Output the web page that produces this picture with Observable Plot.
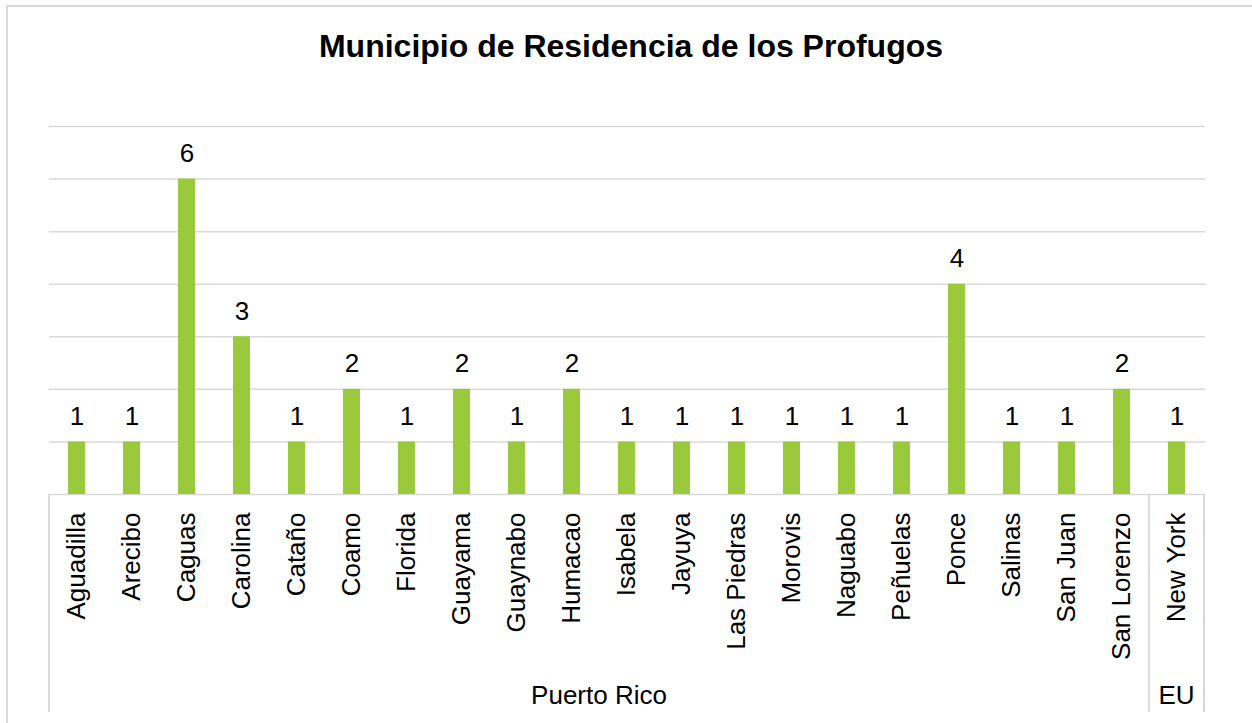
<!DOCTYPE html>
<html>
<head>
<meta charset="utf-8">
<script src="https://cdn.jsdelivr.net/npm/d3@7"></script>
<script src="https://cdn.jsdelivr.net/npm/@observablehq/plot@0.6"></script>
<style>
  html, body { margin: 0; padding: 0; background: #fff; overflow: hidden; }
  #page { position: relative; width: 1252px; height: 723px; font-family: "Liberation Sans", Arial, sans-serif; }
  #frame { position: absolute; left: 6px; top: 5px; width: 1400px; height: 1000px; border: 2px solid #d9d9d9; box-sizing: border-box; }
  #title { position: absolute; left: 0; top: 30px; width: 1262px; text-align: center; font-size: 32px; line-height: 32px; font-weight: bold; color: #000; }
  #chart { position: absolute; left: 0; top: 80px; }
</style>
</head>
<body>
<div id="page">
  <div id="frame"></div>
  <div id="title">Municipio de Residencia de los Profugos</div>
  <div id="chart"></div>
</div>
<script>
const categories = ["Aguadilla", "Arecibo", "Caguas", "Carolina", "Cataño", "Coamo", "Florida", "Guayama", "Guaynabo", "Humacao", "Isabela", "Jayuya", "Las Piedras", "Morovis", "Naguabo", "Peñuelas", "Ponce", "Salinas", "San Juan", "San Lorenzo", "New York"];
const values = [1, 1, 6, 3, 1, 2, 1, 2, 1, 2, 1, 1, 1, 1, 1, 1, 4, 1, 1, 2, 1];
const region = ["Puerto Rico", "Puerto Rico", "Puerto Rico", "Puerto Rico", "Puerto Rico", "Puerto Rico", "Puerto Rico", "Puerto Rico", "Puerto Rico", "Puerto Rico", "Puerto Rico", "Puerto Rico", "Puerto Rico", "Puerto Rico", "Puerto Rico", "Puerto Rico", "Puerto Rico", "Puerto Rico", "Puerto Rico", "Puerto Rico", "EU"];
const groups = ["Puerto Rico", "EU"];
const yTicks = [0, 1, 2, 3, 4, 5, 6, 7];

const data = categories.map((name, i) => ({name, value: values[i], region: region[i]}));

const groupMark = (index, scales) => {
  const x = scales.x, y = scales.y;
  const step = x.step(), bw = x.bandwidth(), pad = (step - bw) / 2;
  const y0 = y(0), y1 = y0 + 218;
  const g = d3.create("svg:g");
  const bounds = [];
  groups.forEach((grp, gi) => {
    const cats = categories.filter((c, i) => region[i] === grp);
    const left = x(cats[0]) - pad;
    const right = x(cats[cats.length - 1]) + bw + pad;
    if (gi === 0) bounds.push(left);
    bounds.push(right);
    g.append("text")
      .attr("x", (left + right) / 2)
      .attr("y", y0 + 210)
      .attr("text-anchor", "middle")
      .attr("font-size", 26)
      .attr("fill", "#000")
      .text(grp);
  });
  bounds.forEach(b => {
    g.append("line")
      .attr("x1", b).attr("x2", b)
      .attr("y1", y0).attr("y2", y1)
      .attr("stroke", "#d9d9d9").attr("stroke-width", 2);
  });
  return g.node();
};

const chart = Plot.plot({
  width: 1252,
  height: 643,
  marginLeft: 49,
  marginRight: 47,
  marginTop: 46,
  marginBottom: 229,
  style: {fontFamily: "'Liberation Sans', Arial, sans-serif", color: "#000", background: "transparent"},
  x: {domain: categories, paddingInner: 0.685, paddingOuter: 0.3425, axis: null},
  y: {domain: [0, 7], axis: null},
  marks: [
    Plot.ruleY(yTicks, {stroke: "#d9d9d9", strokeWidth: 1.5}),
    Plot.barY(data, {x: "name", y: "value", fill: "#9aca3c"}),
    Plot.text(data, {x: "name", y: "value", text: d => String(d.value), dy: -17, lineAnchor: "bottom", fontSize: 26, fill: "#000"}),
    Plot.text(data, {x: "name", y: () => 0, text: "name", rotate: -90, textAnchor: "end", lineAnchor: "middle", dy: 18, fontSize: 26, fill: "#000"}),
    groupMark
  ]
});
document.getElementById("chart").appendChild(chart);
</script>
</body>
</html>
